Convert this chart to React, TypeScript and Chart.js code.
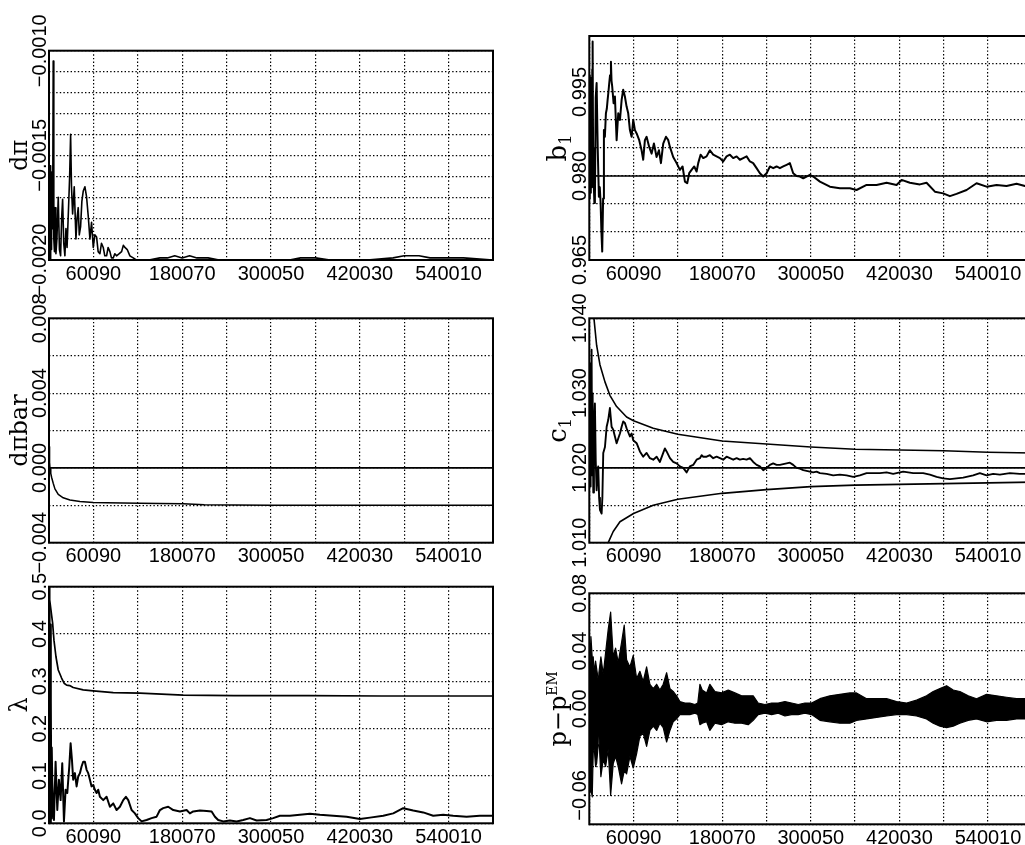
import React, { useEffect, useRef } from 'react';
import { Chart, registerables } from 'chart.js';

Chart.register(...registerables);

const W = 1040;
const H = 845;

// ---------- shared x axis ----------
const X_TICKS = [100, 60090, 120080, 180070, 240060, 300050, 360040, 420030, 480020, 540010, 600000];
const X_LABELS = ['', '60090', '', '180070', '', '300050', '', '420030', '', '540010', ''];

// ---------- panel 1 : dπ ----------
const DPI: [number, number][] = [
  [100, -0.0019], [600, -0.0016], [1100, -0.00198], [1700, -0.00155], [2300, -0.002], [2900, -0.0017],
  [3500, -0.00195], [4200, -0.00158], [5000, -0.00185], [5800, -0.00105], [6600, -0.0019], [7500, -0.00196],
  [8500, -0.00175], [9450, -0.00197], [10800, -0.0019], [12600, -0.0017], [14200, -0.00195], [15800, -0.00198],
  [17200, -0.0018], [18500, -0.00171], [20000, -0.00192], [21600, -0.00198], [23000, -0.00185], [24500, -0.00194],
  [26500, -0.00175], [28000, -0.0016], [29300, -0.0014], [30500, -0.00165], [32000, -0.00178], [34200, -0.00165],
  [36500, -0.0019], [38000, -0.0018], [39600, -0.00175], [41000, -0.00188], [42800, -0.00184], [44500, -0.00172],
  [46400, -0.00167], [48600, -0.00165], [50900, -0.0017], [53100, -0.00179], [55400, -0.0019], [57600, -0.00182],
  [59900, -0.00194], [62000, -0.00188], [64400, -0.00189], [66500, -0.00196], [68900, -0.00197], [71000, -0.00192],
  [73400, -0.00194], [75500, -0.00198], [77900, -0.00198], [80000, -0.00194], [82400, -0.00196], [84500, -0.00199],
  [86900, -0.00199], [89000, -0.00197], [91400, -0.00198], [95000, -0.00197], [98200, -0.00196], [100500, -0.00193],
  [102700, -0.00194], [105800, -0.00195], [109400, -0.00198], [113900, -0.00199], [118000, -0.002], [135000, -0.002],
  [150000, -0.00199], [160000, -0.00199], [170000, -0.00198], [180000, -0.00199], [190000, -0.00198], [200000, -0.00199],
  [215000, -0.00199], [230000, -0.002], [280000, -0.002], [325000, -0.002], [340000, -0.00199], [360000, -0.00199],
  [380000, -0.002], [430000, -0.002], [465000, -0.00199], [480000, -0.00198], [500000, -0.00198], [515000, -0.00199],
  [540000, -0.00199], [560000, -0.00199], [600000, -0.002],
];

// ---------- panel 2 : b1 ----------
const B1_TRUE: [number, number][] = [[100, 0.98], [600000, 0.98]];
const B1: [number, number][] = [
  [100, 0.99], [500, 0.976], [900, 0.998], [1400, 0.977], [1900, 0.9975], [2400, 0.98], [3000, 0.996],
  [3600, 0.978], [4100, 0.999], [4600, 1.004], [5200, 0.985], [6000, 0.979], [7000, 0.9752], [7700, 0.976],
  [8800, 0.994], [10000, 0.9966], [11500, 0.985], [13100, 0.9763], [14300, 0.978], [15400, 0.9752],
  [16500, 0.97], [17600, 0.9665], [18800, 0.976], [19900, 0.9882], [21200, 0.987], [22600, 0.9912],
  [23800, 0.992], [24900, 0.9936], [26000, 0.995], [27100, 0.9966], [28200, 0.998], [29400, 1.0004],
  [30200, 0.997], [31100, 0.996], [33000, 0.993], [34800, 0.9942], [37100, 0.9864], [39300, 0.9912],
  [41600, 0.99], [43900, 0.9936], [46000, 0.9954], [48300, 0.9942], [50600, 0.9924], [52800, 0.9912],
  [55100, 0.9882], [57400, 0.987], [59600, 0.99], [61900, 0.9882], [64200, 0.9876], [67700, 0.9864],
  [70900, 0.9846], [73100, 0.9829], [75400, 0.9864], [77700, 0.987], [81200, 0.9852], [84500, 0.984],
  [87600, 0.9858], [91200, 0.9834], [94400, 0.9846], [97100, 0.9823], [100200, 0.9858], [103900, 0.987],
  [107000, 0.9864], [109300, 0.9852], [113700, 0.9834], [118300, 0.9823], [122800, 0.9811], [126400, 0.9817],
  [129600, 0.979], [132700, 0.9787], [135400, 0.9805], [138600, 0.9811], [142200, 0.9817], [145400, 0.9808],
  [147600, 0.9823], [150800, 0.9838], [154400, 0.9832], [158900, 0.9835], [163400, 0.9846], [167900, 0.9838],
  [172400, 0.9835], [177000, 0.9832], [181400, 0.9826], [186000, 0.9835], [190500, 0.9838], [195000, 0.9832],
  [199600, 0.9835], [204000, 0.9829], [208500, 0.9832], [213100, 0.9835], [217600, 0.9826], [222000, 0.9823],
  [226600, 0.9814], [231100, 0.9805], [235600, 0.9799], [240200, 0.9805], [244700, 0.9817], [249100, 0.9814],
  [253700, 0.9817], [258200, 0.9814], [262700, 0.9817], [267300, 0.982], [271700, 0.9823], [276200, 0.9805],
  [280800, 0.98], [285300, 0.9799], [289800, 0.9796], [294300, 0.9799], [298800, 0.9802], [303300, 0.9799],
  [312400, 0.979], [325900, 0.9781], [339400, 0.9778], [353000, 0.9778], [362000, 0.9775], [375600, 0.9784],
  [389100, 0.9784], [402700, 0.9788], [416200, 0.9784], [423000, 0.9793], [434200, 0.9788], [447800, 0.9785],
  [456800, 0.9788], [468100, 0.9772], [479300, 0.9769], [488400, 0.9764], [497400, 0.9768], [511000, 0.9775],
  [524500, 0.9787], [538100, 0.9781], [551600, 0.9784], [565100, 0.9782], [578700, 0.9786], [590000, 0.9782],
  [600000, 0.9783],
];

// ---------- panel 3 : dπbar ----------
const DPIBAR_ZERO: [number, number][] = [[100, 0], [600000, 0]];
const DPIBAR: [number, number][] = [
  [100, 0.00113], [700, 0.0011], [1000, 0.0003], [1500, -0.00005], [2500, -0.0003], [3600, -0.0005],
  [5800, -0.00082], [8100, -0.00112], [12600, -0.00142], [19300, -0.0016], [28400, -0.00172], [41900, -0.0018],
  [59900, -0.00185], [77900, -0.00187], [100000, -0.00188], [122900, -0.00189], [150000, -0.0019],
  [181400, -0.00192], [210000, -0.00197], [250000, -0.00199], [300000, -0.002], [600000, -0.002],
];

// ---------- panel 4 : c1 ----------
const C1_TRUE: [number, number][] = [[100, 1.02], [600000, 1.02]];
const C1_UPPER: [number, number][] = [
  [4500, 1.0425], [6400, 1.04], [10000, 1.0364], [14500, 1.0338], [21300, 1.0315], [28000, 1.0297],
  [37100, 1.0282], [50600, 1.0268], [60000, 1.0263], [86700, 1.0253], [120000, 1.0245], [180000, 1.0236],
  [240000, 1.0232], [300000, 1.0228], [360000, 1.0225], [420000, 1.0224], [480000, 1.0223], [540000, 1.0221],
  [600000, 1.022],
];
const C1_LOWER: [number, number][] = [
  [20000, 1.0075], [25700, 1.01], [32500, 1.0115], [41600, 1.0128], [60000, 1.0139], [86700, 1.015],
  [120000, 1.0158], [180000, 1.0166], [240000, 1.0171], [300000, 1.0175], [360000, 1.0177], [420000, 1.0178],
  [480000, 1.0179], [540000, 1.018], [600000, 1.0181],
];
const C1: [number, number][] = [
  [100, 1.03], [500, 1.018], [900, 1.034], [1400, 1.0175], [1900, 1.033], [2600, 1.02], [3200, 1.0358],
  [3900, 1.019], [4600, 1.03], [5500, 1.0167], [6400, 1.025], [7700, 1.0286], [8800, 1.021], [10000, 1.017],
  [11000, 1.019], [12200, 1.0202], [13400, 1.016], [14500, 1.0144], [16800, 1.0139], [17800, 1.016],
  [19000, 1.022], [21300, 1.0228], [23600, 1.0255], [25700, 1.0264], [28000, 1.028], [30300, 1.0255],
  [32500, 1.0251], [34800, 1.0242], [37100, 1.0233], [41600, 1.0246], [43900, 1.0255], [46000, 1.0262],
  [48300, 1.026], [50600, 1.0253], [55100, 1.0242], [57400, 1.0246], [59600, 1.0237], [64200, 1.0233],
  [68600, 1.0222], [73100, 1.0215], [77700, 1.022], [82200, 1.0213], [86700, 1.0211], [91300, 1.0215],
  [95700, 1.0208], [100200, 1.022], [102500, 1.0226], [104800, 1.0222], [109300, 1.0213], [113700, 1.0208],
  [118300, 1.0206], [122800, 1.0202], [127300, 1.02], [131900, 1.0194], [136300, 1.0202], [140800, 1.0204],
  [145400, 1.0211], [149900, 1.0213], [152200, 1.0217], [154400, 1.0215], [159000, 1.0215], [163400, 1.0217],
  [167900, 1.0213], [172500, 1.0215], [177000, 1.0213], [181400, 1.0211], [186000, 1.0215], [190500, 1.0213],
  [195000, 1.0211], [199600, 1.0213], [204000, 1.0211], [208500, 1.0212], [213100, 1.0211], [217600, 1.0213],
  [222100, 1.0208], [226700, 1.0204], [231100, 1.0202], [235600, 1.0197], [240200, 1.02], [244700, 1.0204],
  [249100, 1.0206], [253700, 1.0204], [258200, 1.0204], [262700, 1.0205], [267300, 1.0206], [271700, 1.0207],
  [276200, 1.0204], [280800, 1.02], [285300, 1.0199], [289800, 1.0197], [294300, 1.0196], [298800, 1.0195],
  [303300, 1.0194], [307900, 1.0195], [312400, 1.0193], [321400, 1.0192], [330400, 1.019], [339400, 1.0191],
  [348500, 1.019], [357500, 1.0188], [366500, 1.019], [375600, 1.0193], [384500, 1.0193], [393600, 1.0193],
  [402700, 1.0194], [411600, 1.0192], [425200, 1.0195], [438700, 1.0193], [452200, 1.0193], [461300, 1.0191],
  [470400, 1.0188], [479300, 1.0186], [488400, 1.0185], [497400, 1.0186], [506400, 1.0187], [519900, 1.019],
  [529000, 1.0193], [538100, 1.019], [547000, 1.0192], [556100, 1.0191], [569600, 1.0193], [583100, 1.0192],
  [600000, 1.0192],
];

// ---------- panel 5 : λ ----------
const LAMBDA_UPPER: [number, number][] = [
  [100, 0.5], [700, 0.49], [1350, 0.472], [3600, 0.44], [5000, 0.423], [6800, 0.387], [9500, 0.352],
  [12600, 0.324], [17100, 0.307], [20500, 0.296], [23900, 0.292], [28000, 0.291], [32800, 0.287],
  [46300, 0.282], [59900, 0.28], [86900, 0.276], [122900, 0.275], [181400, 0.271], [250000, 0.27],
  [350000, 0.27], [450000, 0.269], [600000, 0.269],
];
const LAMBDA: [number, number][] = [
  [100, 0.3], [500, 0.01], [900, 0.46], [1300, 0.02], [1800, 0.42], [2300, 0.0], [2800, 0.26], [3300, 0.01],
  [3800, 0.16], [4500, 0.091], [5600, 0.04], [6800, 0.007], [9000, 0.13], [11300, 0.028], [13500, 0.092],
  [15800, 0.049], [18000, 0.127], [20300, 0.004], [22500, 0.071], [24800, 0.064], [27500, 0.12], [29300, 0.169],
  [31100, 0.134], [32800, 0.092], [35100, 0.106], [37400, 0.078], [39600, 0.099], [41900, 0.106], [44100, 0.12],
  [46300, 0.13], [48600, 0.13], [50900, 0.113], [53100, 0.106], [55400, 0.092], [57600, 0.078], [59900, 0.081],
  [62100, 0.071], [64400, 0.064], [66600, 0.071], [68900, 0.056], [73400, 0.049], [77900, 0.056], [82400, 0.035],
  [86900, 0.042], [91400, 0.028], [95900, 0.035], [100400, 0.049], [104000, 0.056], [107200, 0.049],
  [111700, 0.028], [116200, 0.021], [120600, 0.011], [125200, 0.004], [132000, 0.007], [138700, 0.011],
  [145500, 0.014], [150000, 0.028], [154400, 0.032], [161200, 0.035], [168000, 0.028], [177000, 0.025],
  [186000, 0.028], [190500, 0.021], [195000, 0.025], [204000, 0.027], [213100, 0.026], [219800, 0.025],
  [224300, 0.014], [228700, 0.007], [235500, 0.004], [244500, 0.006], [253600, 0.004], [262500, 0.007],
  [271600, 0.011], [280600, 0.006], [294100, 0.007], [303000, 0.011], [312100, 0.016], [325600, 0.016],
  [339100, 0.018], [352600, 0.02], [366100, 0.018], [384100, 0.016], [402200, 0.014], [420200, 0.009],
  [433700, 0.012], [451700, 0.016], [465200, 0.021], [478700, 0.032], [492200, 0.027], [505700, 0.023],
  [519200, 0.016], [532700, 0.018], [546200, 0.016], [564300, 0.014], [582200, 0.016], [600000, 0.016],
];

// ---------- panel 6 : p − p^EM (envelope of the dense trace) ----------
const PEM_T = [
  100, 1000, 2300, 4100, 5400, 6800, 8600, 10000, 12200, 13100, 15800, 19000, 22200, 25700, 29000, 32500,
  35700, 39300, 43800, 47400, 50600, 55100, 59600, 64200, 68600, 73100, 77700, 82200, 86700, 91300, 95700,
  100200, 104800, 109300, 113700, 118300, 122800, 129600, 136300, 143100, 147000, 149900, 153000, 159000,
  163400, 170200, 179300, 188200, 197300, 206300, 215300, 222100, 228800, 237900, 247000, 255900, 265000,
  274000, 283000, 292100, 301100, 312400, 325900, 339400, 353000, 362000, 375600, 389100, 402700, 416200,
  429800, 443300, 456800, 465800, 474900, 483900, 492900, 501900, 513200, 524500, 538100, 551600, 565100,
  578700, 590000, 600000,
];
const PEM_UPPER = [
  0.045, 0.03, 0.05, 0.035, 0.036, 0.025, 0.033, 0.028, 0.02, 0.025, 0.036, 0.024, 0.039, 0.055, 0.067, 0.036,
  0.042, 0.032, 0.046, 0.058, 0.034, 0.029, 0.037, 0.021, 0.026, 0.019, 0.029, 0.017, 0.014, 0.017, 0.013,
  0.017, 0.025, 0.014, 0.012, 0.009, 0.005, 0.004, 0.004, 0.003, 0.004, 0.017, 0.013, 0.011,
  0.017, 0.012, 0.011, 0.013, 0.011, 0.009, 0.009, 0.009, 0.004, 0.003, 0.004, 0.004, 0.005,
  0.004, 0.003, 0.004, 0.004, 0.007, 0.009, 0.01, 0.011, 0.011, 0.007, 0.007, 0.007, 0.005,
  0.004, 0.006, 0.009, 0.012, 0.014, 0.016, 0.013, 0.012, 0.009, 0.007, 0.01, 0.009, 0.008,
  0.007, 0.007, 0.007,
];
const PEM_LOWER = [
  -0.05, -0.058, -0.056, -0.061, -0.03, -0.028, -0.04, -0.038, -0.025, -0.019, -0.047, -0.035, -0.04, -0.028,
  -0.06, -0.038, -0.033, -0.04, -0.052, -0.043, -0.045, -0.033, -0.041, -0.031, -0.019, -0.017, -0.026, -0.015,
  -0.012, -0.015, -0.01, -0.013, -0.023, -0.015, -0.009, -0.007, -0.004, -0.004, -0.004, -0.003, -0.004, -0.011,
  -0.01, -0.009, -0.015, -0.01, -0.011, -0.009, -0.01, -0.01, -0.011, -0.008, -0.004, -0.003, -0.004, -0.003,
  -0.005, -0.004, -0.004, -0.003, -0.004, -0.008, -0.009, -0.01, -0.01, -0.008, -0.007, -0.006, -0.005, -0.004,
  -0.004, -0.005, -0.007, -0.01, -0.012, -0.013, -0.012, -0.01, -0.008, -0.007, -0.009, -0.008, -0.008, -0.007,
  -0.007, -0.007,
];

// ---------- y tick labels ----------
const DPI_YLABELS: [number, string][] = [[-0.001, '−0.0010'], [-0.0015, '−0.0015'], [-0.002, '−0.0020']];
const B1_YLABELS: [number, string][] = [[0.995, '0.995'], [0.98, '0.980'], [0.965, '0.965']];
const DPIBAR_YLABELS: [number, string][] = [[0.008, '0.008'], [0.004, '0.004'], [0, '0.000'], [-0.004, '−0.004']];
const C1_YLABELS: [number, string][] = [[1.04, '1.040'], [1.03, '1.030'], [1.02, '1.020'], [1.01, '1.010']];
const LAMBDA_YLABELS: [number, string][] = [[0.5, '0.5'], [0.4, '0.4'], [0.3, '0.3'], [0.2, '0.2'], [0.1, '0.1'], [0, '0.0']];
const PEM_YLABELS: [number, string][] = [[0.08, '0.08'], [0.04, '0.04'], [0, '0.00'], [-0.06, '−0.06']];

type TitlePart = { text: string; size: number; shift: number };
type DS = { data: { x: number; y: number }[]; width: number; fill?: any; bg?: string };
type PanelCfg = {
  left: number; top: number; right: number; bottom: number;
  yMin: number; yMax: number; yDiv: number;
  yLabels: [number, string][];
  labelX: number; titleX: number;
  title: TitlePart[];
  datasets: DS[];
};

const pts = (a: [number, number][]) => a.map(([x, y]) => ({ x, y }));
const zipPts = (t: number[], v: number[]) => t.map((x, i) => ({ x, y: v[i] }));

const TICK_FONT = '20px "Liberation Sans", Arial, sans-serif';
const TITLE_FAMILY = '"DejaVu Serif", serif';

const LEFT_COL = { left: 49, right: 493, labelX: 46, titleX: 27 };
const RIGHT_COL = { left: 589.3, right: 1032.3, labelX: 586, titleX: 566 };

const PANELS: PanelCfg[] = [
  {
    ...LEFT_COL, top: 50.7, bottom: 260, yMin: -0.002, yMax: -0.001, yDiv: 10, yLabels: DPI_YLABELS,
    title: [{ text: 'dπ', size: 24, shift: 0 }],
    datasets: [{ data: pts(DPI), width: 1.6 }],
  },
  {
    ...RIGHT_COL, top: 36, bottom: 260, yMin: 0.965, yMax: 1.005, yDiv: 8, yLabels: B1_YLABELS,
    title: [{ text: 'b', size: 26, shift: 0 }, { text: '1', size: 16, shift: 5 }],
    datasets: [{ data: pts(B1_TRUE), width: 1.5 }, { data: pts(B1), width: 2 }],
  },
  {
    ...LEFT_COL, top: 318.3, bottom: 542.7, yMin: -0.004, yMax: 0.008, yDiv: 6, yLabels: DPIBAR_YLABELS,
    title: [{ text: 'dπbar', size: 24, shift: 0 }],
    datasets: [{ data: pts(DPIBAR_ZERO), width: 1.7 }, { data: pts(DPIBAR), width: 1.5 }],
  },
  {
    ...RIGHT_COL, top: 318.3, bottom: 542.7, yMin: 1.01, yMax: 1.04, yDiv: 6, yLabels: C1_YLABELS,
    title: [{ text: 'c', size: 26, shift: 0 }, { text: '1', size: 16, shift: 5 }],
    datasets: [
      { data: pts(C1_TRUE), width: 1.6 },
      { data: pts(C1_UPPER), width: 1.6 },
      { data: pts(C1_LOWER), width: 1.6 },
      { data: pts(C1), width: 1.9 },
    ],
  },
  {
    ...LEFT_COL, top: 586.7, bottom: 823.3, yMin: 0, yMax: 0.5, yDiv: 5, yLabels: LAMBDA_YLABELS,
    title: [{ text: 'λ', size: 24, shift: 0 }],
    datasets: [{ data: pts(LAMBDA_UPPER), width: 1.7 }, { data: pts(LAMBDA), width: 2 }],
  },
  {
    ...RIGHT_COL, top: 593.3, bottom: 824.3, yMin: -0.08, yMax: 0.08, yDiv: 8, yLabels: PEM_YLABELS,
    title: [{ text: 'p−p', size: 24, shift: 0 }, { text: 'EM', size: 14, shift: -9 }],
    datasets: [
      { data: zipPts(PEM_T, PEM_UPPER), width: 1.2, fill: '+1', bg: '#000' },
      { data: zipPts(PEM_T, PEM_LOWER), width: 1.2 },
    ],
  },
];

function makeDecor(cfg: PanelCfg) {
  return {
    id: 'decor',
    afterDraw(chart: any) {
      const ctx: CanvasRenderingContext2D = chart.ctx;
      const { left, top, right, bottom } = chart.chartArea;
      const xs = chart.scales.x;
      const ys = chart.scales.y;
      ctx.save();
      ctx.strokeStyle = '#000';
      ctx.lineWidth = 2;
      ctx.strokeRect(left, top, right - left, bottom - top);

      ctx.fillStyle = '#000';
      ctx.font = TICK_FONT;
      ctx.textAlign = 'center';
      ctx.textBaseline = 'alphabetic';
      X_TICKS.forEach((v, i) => {
        if (X_LABELS[i]) ctx.fillText(X_LABELS[i], xs.getPixelForValue(v), bottom + 19.5);
      });

      cfg.yLabels.forEach(([v, txt]) => {
        const y = ys.getPixelForValue(v);
        ctx.save();
        ctx.translate(cfg.labelX, y);
        ctx.rotate(-Math.PI / 2);
        ctx.textAlign = 'center';
        ctx.fillText(txt, 0, 0);
        ctx.restore();
      });

      // rotated axis title
      let total = 0;
      const widths = cfg.title.map((p) => {
        ctx.font = `${p.size}px ${TITLE_FAMILY}`;
        const w = ctx.measureText(p.text).width;
        total += w;
        return w;
      });
      const cy = (top + bottom) / 2;
      ctx.save();
      ctx.translate(cfg.titleX, cy);
      ctx.rotate(-Math.PI / 2);
      ctx.textAlign = 'left';
      let x = -total / 2;
      cfg.title.forEach((p, i) => {
        ctx.font = `${p.size}px ${TITLE_FAMILY}`;
        ctx.fillText(p.text, x, p.shift);
        x += widths[i];
      });
      ctx.restore();
      ctx.restore();
    },
  };
}

function Panel({ cfg }: { cfg: PanelCfg }) {
  const ref = useRef<HTMLCanvasElement>(null);
  useEffect(() => {
    const yTicks: number[] = [];
    for (let i = 0; i <= cfg.yDiv; i++) yTicks.push(cfg.yMin + ((cfg.yMax - cfg.yMin) * i) / cfg.yDiv);
    const gridCommon = {
      grid: { color: '#000', lineWidth: 1.2, drawTicks: false },
      border: { display: false, dash: [1.4, 2.2] },
      ticks: { display: false },
    };
    const chart = new Chart(ref.current as HTMLCanvasElement, {
      type: 'line',
      data: {
        datasets: cfg.datasets.map((d) => ({
          data: d.data,
          borderColor: '#000',
          borderWidth: d.width,
          pointRadius: 0,
          tension: 0,
          borderJoinStyle: 'round' as const,
          fill: d.fill ?? false,
          backgroundColor: d.bg ?? 'transparent',
        })),
      },
      options: {
        responsive: false,
        animation: false,
        devicePixelRatio: 1,
        events: [],
        layout: {
          autoPadding: false,
          padding: { left: cfg.left, top: cfg.top, right: W - cfg.right, bottom: H - cfg.bottom },
        },
        plugins: { legend: { display: false }, tooltip: { enabled: false } },
        scales: {
          x: {
            type: 'linear',
            min: 100,
            max: 600000,
            ...gridCommon,
            afterBuildTicks: (s: any) => { s.ticks = X_TICKS.map((v) => ({ value: v })); },
            afterFit: (s: any) => { s.height = 0; },
          },
          y: {
            type: 'linear',
            min: cfg.yMin,
            max: cfg.yMax,
            ...gridCommon,
            afterBuildTicks: (s: any) => { s.ticks = yTicks.map((v) => ({ value: v })); },
            afterFit: (s: any) => { s.width = 0; },
          },
        },
      } as any,
      plugins: [makeDecor(cfg)],
    });
    return () => chart.destroy();
  }, [cfg]);
  return (
    <canvas
      ref={ref}
      width={W}
      height={H}
      style={{ position: 'absolute', left: 0, top: 0, width: W, height: H }}
    />
  );
}

export default function App() {
  return (
    <div
      style={{
        position: 'fixed', left: 0, top: 0, width: 1025, height: 845,
        overflow: 'hidden', background: '#fff',
      }}
    >
      {PANELS.map((p, i) => (
        <Panel key={i} cfg={p} />
      ))}
    </div>
  );
}
